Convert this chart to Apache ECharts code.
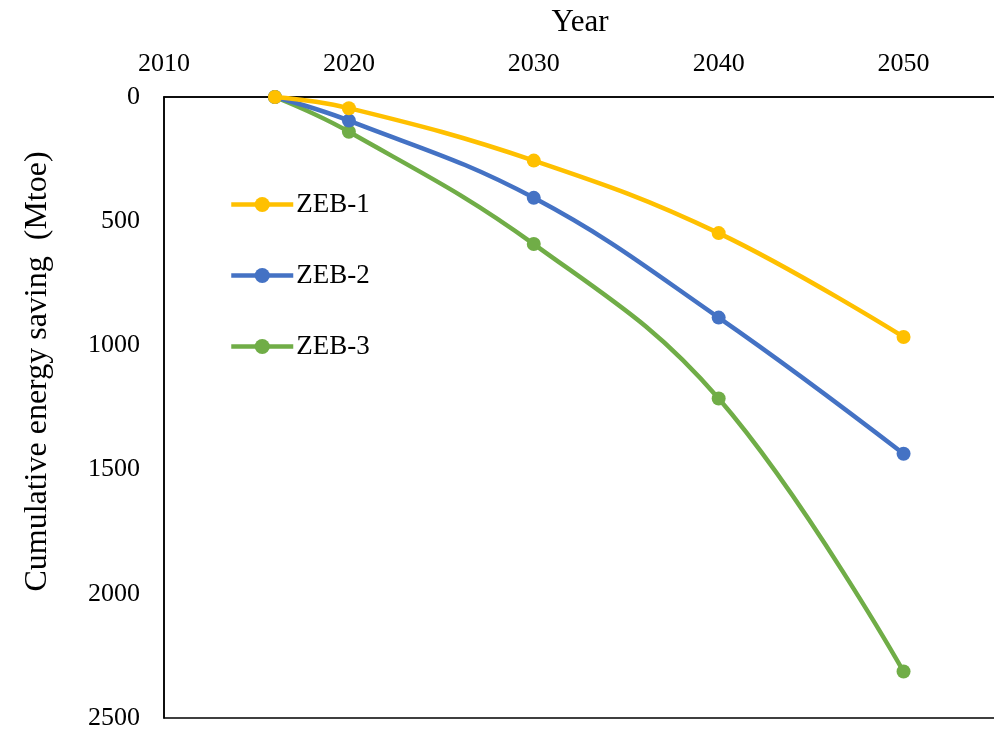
<!DOCTYPE html>
<html>
<head>
<meta charset="utf-8">
<script src="https://cdn.jsdelivr.net/npm/echarts@6/dist/echarts.min.js"></script>
<style>
  html, body { margin: 0; padding: 0; background: #fff; }
  #chart { width: 994px; height: 731px; }
</style>
</head>
<body>
<div id="chart"></div>
<script>
// Cumulative energy saving by scenario (Mtoe), by year
const years = [2016, 2020, 2030, 2040, 2050];
const zeb1 = [0, 45, 256, 548, 966];
const zeb2 = [0, 95, 406, 888, 1436];
const zeb3 = [0, 140, 592, 1214, 2313];
const seriesNames = ['ZEB-1', 'ZEB-2', 'ZEB-3'];
const seriesColors = ['#FFC000', '#4472C4', '#70AD47'];

const font = 'Liberation Serif, Times New Roman, serif';

function pairs(vals) {
  return years.map((y, i) => [y, vals[i]]);
}

const chart = echarts.init(document.getElementById('chart'));
chart.setOption({
  backgroundColor: '#ffffff',
  animation: false,
  grid: {
    left: 164,
    right: -2,
    top: 97,
    bottom: 13,
    show: true,
    borderColor: '#000',
    borderWidth: 1.5,
    containLabel: false,
    outerBoundsMode: 'none'
  },
  legend: {
    orient: 'vertical',
    left: 224,
    top: 186,
    itemWidth: 62,
    itemHeight: 19,
    itemGap: 44,
    data: seriesNames,
    lineStyle: { width: 4.5 },
    textStyle: { fontFamily: font, fontSize: 27, color: '#000', padding: [0, 0, 0, -2] }
  },
  xAxis: {
    type: 'value',
    position: 'top',
    min: 2010,
    max: 2055,
    interval: 10,
    name: 'Year',
    nameLocation: 'middle',
    nameGap: 59,
    nameTextStyle: { fontFamily: font, fontSize: 31, color: '#000' },
    axisLine: { show: true, lineStyle: { color: '#000', width: 1.5 } },
    axisTick: { show: false },
    splitLine: { show: false },
    axisLabel: {
      fontFamily: font, fontSize: 26, color: '#000', margin: 20,
      formatter: v => (v % 10 === 0 ? String(v) : '')
    }
  },
  yAxis: {
    type: 'value',
    inverse: true,
    min: 0,
    max: 2500,
    interval: 500,
    name: 'Cumulative energy saving  (Mtoe)',
    nameLocation: 'middle',
    nameRotate: 90,
    nameGap: 110,
    nameTextStyle: { fontFamily: font, fontSize: 32, color: '#000', padding: [0, 0, 0, 72] },
    axisLine: { show: true, lineStyle: { color: '#000', width: 1.5 } },
    axisTick: { show: false },
    splitLine: { show: false },
    axisLabel: {
      fontFamily: font, fontSize: 26, color: '#000', margin: 24,
      formatter: v => String(v)
    }
  },
  series: [zeb1, zeb2, zeb3].map((vals, i) => ({
    name: seriesNames[i],
    type: 'line',
    data: pairs(vals),
    smooth: 0.4,
    symbol: 'circle',
    symbolSize: 14,
    lineStyle: { color: seriesColors[i], width: 4.5 },
    itemStyle: { color: seriesColors[i] },
    z: 3 - i
  }))
});
</script>
</body>
</html>
